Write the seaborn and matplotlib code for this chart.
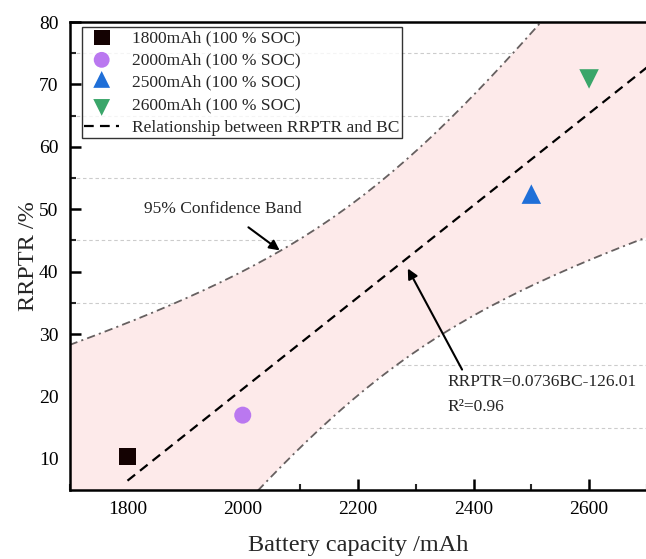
"""
RRPTR vs battery capacity with linear fit and 95 % confidence band.
"""

# ───────────────────────────────────────────────────────────────────────────────
# 1. Imports
# ───────────────────────────────────────────────────────────────────────────────
import numpy as np
import pandas as pd
import seaborn as sns
import matplotlib.pyplot as plt
from matplotlib.ticker import MultipleLocator

# ───────────────────────────────────────────────────────────────────────────────
# 2. Data
# ───────────────────────────────────────────────────────────────────────────────
capacity = [1800, 2000, 2500, 2600]
rrptr = [10.3, 17.0, 51.9, 71.4]
labels = [
    "1800mAh (100 % SOC)",
    "2000mAh (100 % SOC)",
    "2500mAh (100 % SOC)",
    "2600mAh (100 % SOC)",
]
colors = ["#140202", "#BA78F0", "#1F6FD8", "#3AA66A"]

SLOPE = 0.0736
INTERCEPT = -126.01
R2 = 0.96
T_95 = 4.303  # t(0.975, df=2)

X_MIN, X_MAX = 1700, 2700
Y_MIN, Y_MAX = 5, 80

df = pd.DataFrame({"BC": capacity, "RRPTR": rrptr, "label": labels})

# triangles centred on their centroid (like Origin does)
TRI_UP = [(0, 4 / 3), (-1, -2 / 3), (1, -2 / 3), (0, 4 / 3)]
TRI_DN = [(0, -4 / 3), (-1, 2 / 3), (1, 2 / 3), (0, -4 / 3)]
markers = ["s", "o", TRI_UP, TRI_DN]
marker_sizes = [150, 150, 350, 350]
legend_sizes = [130, 130, 260, 260]

# ───────────────────────────────────────────────────────────────────────────────
# 3. Fit line + analytic 95 % confidence band
# ───────────────────────────────────────────────────────────────────────────────
x_arr = np.asarray(capacity, float)
y_arr = np.asarray(rrptr, float)
resid = y_arr - (SLOPE * x_arr + INTERCEPT)
s_err = np.sqrt(np.sum(resid ** 2) / (len(x_arr) - 2))
sxx = np.sum((x_arr - x_arr.mean()) ** 2)

xg = np.linspace(X_MIN, X_MAX, 300)
yg = SLOPE * xg + INTERCEPT
half = T_95 * s_err * np.sqrt(1 / len(x_arr) + (xg - x_arr.mean()) ** 2 / sxx)
lower, upper = yg - half, yg + half

# ───────────────────────────────────────────────────────────────────────────────
# 4. Style
# ───────────────────────────────────────────────────────────────────────────────
sns.set_theme(style="ticks")
plt.rcParams["font.family"] = ["Liberation Serif", "DejaVu Serif"]
plt.rcParams["lines.scale_dashes"] = False

fig = plt.figure(figsize=(6.46, 5.59), dpi=100)
ax = fig.add_axes([0.1077, 0.1234, 0.8935, 0.8372])

# ───────────────────────────────────────────────────────────────────────────────
# 5. Draw
# ───────────────────────────────────────────────────────────────────────────────
ax.fill_between(xg, lower, upper, color="#FDEAEA", lw=0, zorder=1)
for yy in (lower, upper):
    ax.plot(xg, yy, color="#666060", lw=1.3, dashes=(6, 3, 1.5, 3), zorder=2)

fit_mask = xg >= 1800
ax.plot(xg[fit_mask], yg[fit_mask], color="black", lw=1.6, dashes=(7, 4.5),
        zorder=3, label="Relationship between RRPTR and BC")

for i, row in df.iterrows():
    sns.scatterplot(
        x=[row["BC"]], y=[row["RRPTR"]], ax=ax, marker=markers[i],
        s=marker_sizes[i], color=colors[i], edgecolor="none", linewidth=0,
        label=row["label"], zorder=4,
    )

# ───────────────────────────────────────────────────────────────────────────────
# 6. Axes, ticks, grid
# ───────────────────────────────────────────────────────────────────────────────
ax.set_xlim(X_MIN, X_MAX)
ax.set_ylim(Y_MIN, Y_MAX)
ax.xaxis.set_major_locator(MultipleLocator(200))
ax.xaxis.set_minor_locator(MultipleLocator(100))
ax.yaxis.set_major_locator(MultipleLocator(10))
ax.yaxis.set_minor_locator(MultipleLocator(5))
ax.set_yticks([10, 20, 30, 40, 50, 60, 70, 80])
ax.set_xticks([1800, 2000, 2200, 2400, 2600])

ax.tick_params(which="major", direction="in", length=8, width=1.8,
               labelsize=14, pad=8, colors="black")
ax.tick_params(which="minor", direction="in", length=4, width=1.5)
ax.tick_params(axis="x", which="both", top=False)
ax.tick_params(axis="y", which="both", right=False)

ax.grid(False)
ax.grid(axis="y", which="minor", color="#CCCCCC", lw=0.8, ls=(0, (2.5, 2)),
        zorder=0)
ax.set_axisbelow(True)
for sp in ax.spines.values():
    sp.set_linewidth(1.8)
    sp.set_color("black")

ax.set_xlabel("Battery capacity /mAh", fontsize=17.5, labelpad=12)
ax.set_ylabel("RRPTR /%", fontsize=17.5, labelpad=0)

# ───────────────────────────────────────────────────────────────────────────────
# 7. Annotations + legend
# ───────────────────────────────────────────────────────────────────────────────
ax.annotate("95% Confidence Band", xy=(2064, 43.4), xytext=(1966, 50.1),
            ha="center", va="center", fontsize=12.5,
            arrowprops=dict(arrowstyle="-|>", color="black", lw=1.5,
                            mutation_scale=15, shrinkA=9, shrinkB=0))
ax.annotate("", xy=(2286, 40.5), xytext=(2380, 24.3),
            arrowprops=dict(arrowstyle="-|>", color="black", lw=1.5,
                            mutation_scale=15, shrinkA=0, shrinkB=0))
ax.text(2355, 22.3, "RRPTR=0.0736BC-126.01", fontsize=12.5, va="center")
ax.text(2355, 18.3, f"R²={R2:.2f}", fontsize=12.5, va="center")

handles, lbls = ax.get_legend_handles_labels()
order = [lbls.index(l) for l in labels] + [lbls.index("Relationship between RRPTR and BC")]
leg = ax.legend([handles[i] for i in order], [lbls[i] for i in order],
                loc="upper left", bbox_to_anchor=(0.012, 1.0), fontsize=12.5,
                frameon=True, fancybox=False, edgecolor="black",
                borderpad=0.15, labelspacing=0.36, handlelength=2.0,
                handletextpad=0.75, borderaxespad=0.3)
leg.get_frame().set_linewidth(1.0)
for h, sz in zip(leg.legend_handles[:4], legend_sizes):
    h.set_sizes([sz])

fig.savefig("out.png", dpi=100)
